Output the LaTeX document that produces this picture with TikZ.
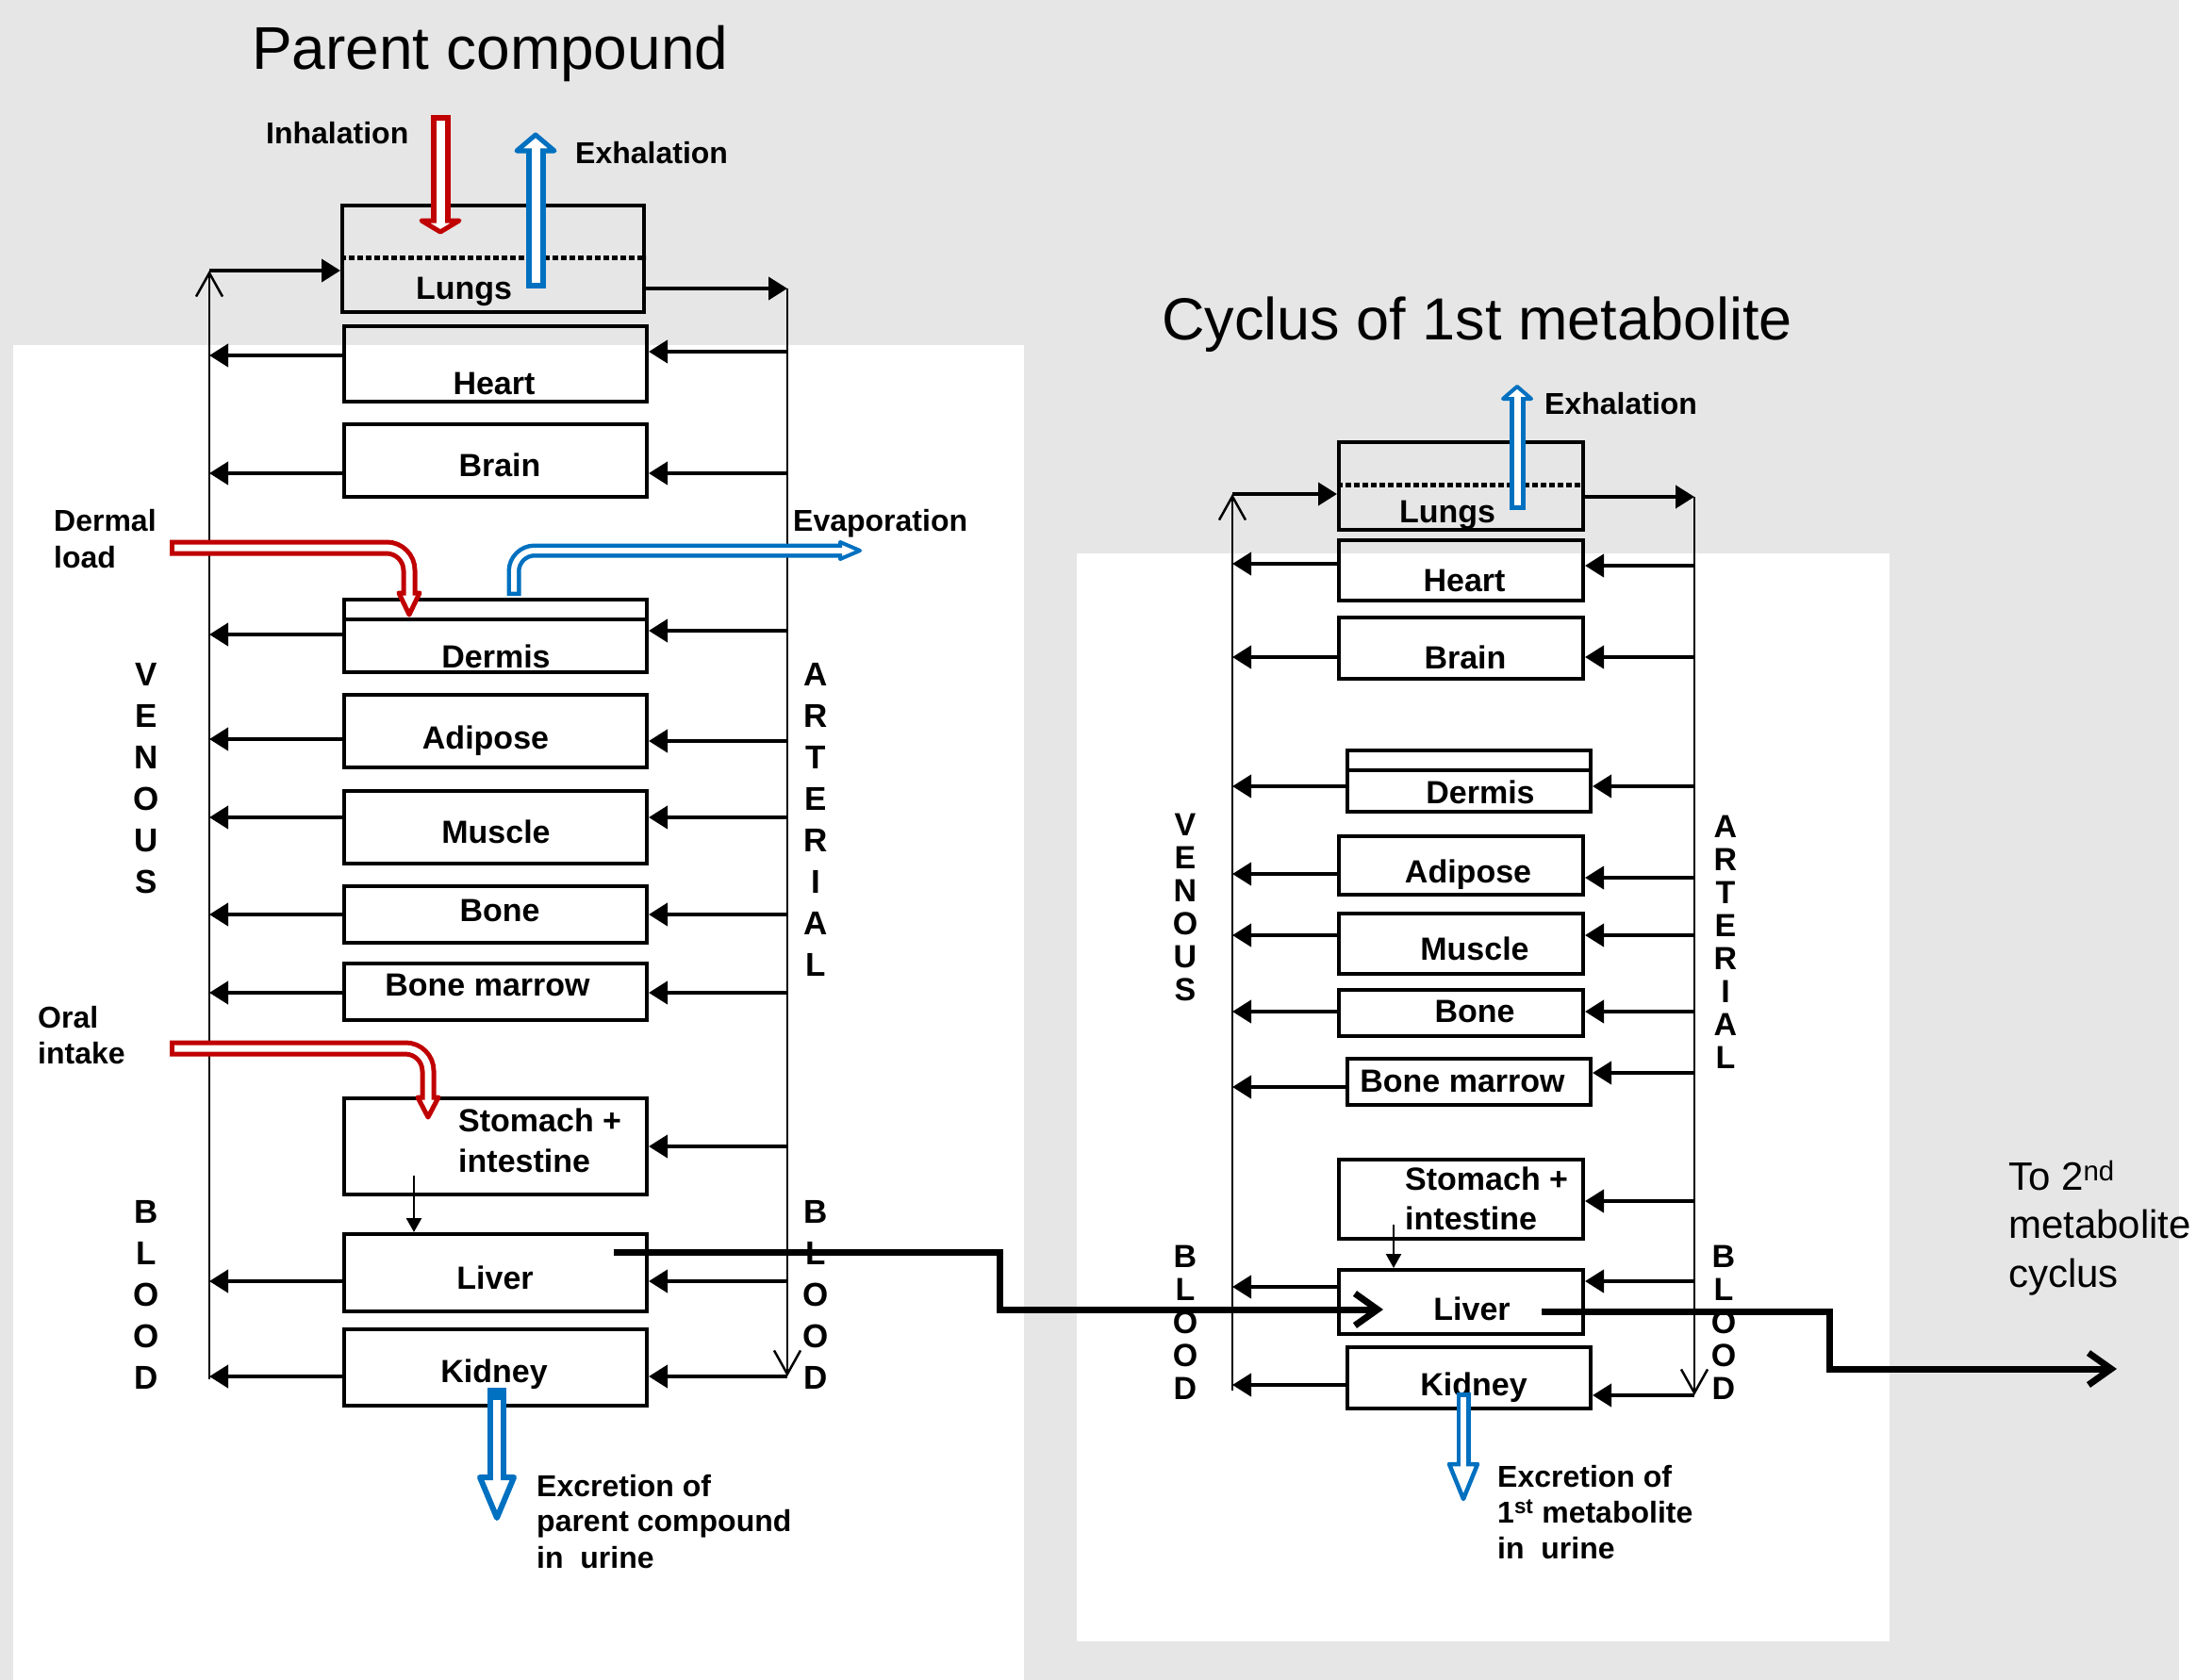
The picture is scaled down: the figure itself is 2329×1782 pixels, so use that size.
\documentclass[tikz,border=0pt]{standalone}
\usepackage{fontspec}
\setmainfont{Liberation Sans}
\usetikzlibrary{arrows.meta}
\definecolor{bggray}{HTML}{E6E6E6}
\definecolor{inred}{HTML}{C00000}
\definecolor{outblue}{HTML}{0070C0}
\begin{document}
\begin{tikzpicture}[x=1pt,y=-1pt,
  organ/.style={draw, line width=4pt, inner sep=0pt},
  lab/.style={font=\fontsize{34}{40}\selectfont\bfseries, inner sep=0pt, anchor=base},
  tlab/.style={font=\fontsize{32}{38}\selectfont\bfseries, inner sep=0pt, anchor=base west},
  vlet/.style={font=\fontsize{35}{44}\selectfont\bfseries, align=center, inner sep=0pt},
  vletr/.style={font=\fontsize{34}{35}\selectfont\bfseries, align=center, inner sep=0pt},
  title/.style={font=\fontsize{64}{70}\selectfont, inner sep=0pt, anchor=base west},
  vessel/.style={line width=2.5pt},
  vesselend/.style={line width=2.5pt, -{Straight Barb[length=25pt,width=28pt]}},
  harr/.style={line width=4pt, -{Triangle[length=20pt,width=24pt]}},
  sarr/.style={line width=2.5pt, -{Triangle[length=15pt,width=16pt]}},
  bigline/.style={line width=7pt, -{Straight Barb[length=24pt,width=34pt]}},
  sep/.style={line width=4pt},
  dashsep/.style={line width=5pt, dash pattern=on 6pt off 3pt},
  headr/.style={inred, line width=5pt, fill=white, line join=round},
  headb/.style={outblue, line width=5pt, fill=white, line join=round},
]
\useasboundingbox (0,0) rectangle (2329,1782);
\clip (0,0) rectangle (2329,1782);
% background
\fill[bggray] (0,0) rectangle (2329,1782);
\fill[white] (14,366) rectangle (1086,1782);
\fill[white] (1142,587) rectangle (2004,1741);
\fill[white] (2311,0) rectangle (2329,1782);

% titles
\node[title] (t1) at (267,74) {Parent compound};
\node[title, font=\fontsize{63}{70}\selectfont] (t2) at (1232,360) {Cyclus of 1st metabolite};

% ===== LEFT PANEL =====
\node[organ, minimum width=320pt, minimum height=113pt] (llungs) at (523,274.5) {};
\node[organ, minimum width=321pt, minimum height=80pt] (lheart) at (525.5,386) {};
\node[organ, minimum width=321pt, minimum height=77pt] (lbrain) at (525.5,488.5) {};
\node[organ, minimum width=321pt, minimum height=77pt] (ldermis) at (525.5,674.5) {};
\node[organ, minimum width=321pt, minimum height=77pt] (ladipose) at (525.5,775.5) {};
\node[organ, minimum width=321pt, minimum height=77pt] (lmuscle) at (525.5,877.5) {};
\node[organ, minimum width=321pt, minimum height=60pt] (lbone) at (525.5,970) {};
\node[organ, minimum width=321pt, minimum height=60pt] (lmarrow) at (525.5,1052) {};
\node[organ, minimum width=321pt, minimum height=102pt] (lstomach) at (525.5,1216) {};
\node[organ, minimum width=321pt, minimum height=82pt] (lliver) at (525.5,1350) {};
\node[organ, minimum width=321pt, minimum height=81pt] (lkidney) at (525.5,1450.5) {};

\draw[dashsep] (llungs.west |- 0,273) -- (llungs.east |- 0,273);
\draw[sep] (ldermis.west |- 0,657) -- (ldermis.east |- 0,657);

\node[lab] (lLungs) at (492,317) {Lungs};
\node[lab] (lHeart) at (524,418) {Heart};
\node[lab] (lBrain) at (530,505) {Brain};
\node[lab] (lDermis) at (526,708) {Dermis};
\node[lab] (lAdipose) at (515,794) {Adipose};
\node[lab] (lMuscle) at (526,894) {Muscle};
\node[lab] (lBone) at (530,977) {Bone};
\node[lab] (lMarrow) at (517,1056) {Bone marrow};
\node[lab, anchor=base west] (lSt1) at (486,1200) {Stomach +};
\node[lab, anchor=base west] (lSt2) at (486,1243) {intestine};
\node[lab] (lLiver) at (525,1367) {Liver};
\node[lab] (lKidney) at (524,1466) {Kidney};

% vessels
\coordinate (lvtop) at (222,287);
\coordinate (lvbot) at (222,1463);
\coordinate (latop) at (835,306);
\coordinate (labot) at (835,1460);
\draw[vesselend] (lvbot) -- (lvtop);
\draw[vesselend] (latop) -- (labot);
\draw[harr] (lvtop) -- (llungs.west |- lvtop);
\draw[harr] (llungs.east |- latop) -- (latop);

% organ -> venous
\foreach \n/\y in {lheart/377, lbrain/502, ldermis/673, ladipose/784, lmuscle/867, lbone/970, lmarrow/1053, lliver/1359, lkidney/1460}
  \draw[harr] (\n.west |- 0,\y) -- (lvtop |- 0,\y);
% arterial -> organ
\foreach \n/\y in {lheart/373, lbrain/502, ldermis/669, ladipose/786, lmuscle/867, lbone/970, lmarrow/1053, lstomach/1216, lliver/1359, lkidney/1460}
  \draw[harr] (latop |- 0,\y) -- (\n.east |- 0,\y);
% stomach -> liver
\draw[sarr] (lstomach.south -| 439,0) ++(0,-22) -- (lliver.north -| 439,0);

% letters
\node[vlet] (lven) at (155,826) {V\\E\\N\\O\\U\\S};
\node[vlet] (lart) at (865,869) {A\\R\\T\\E\\R\\I\\A\\L};
\node[vlet] (lbl1) at (155,1373.5) {B\\L\\O\\O\\D};
\node[vlet] (lbl2) at (865,1373.5) {B\\L\\O\\O\\D};

% side labels
\node[tlab] (inh) at (282,153) {Inhalation};
\node[tlab] (exh1) at (610,173) {Exhalation};
\node[tlab] (derm1) at (57,563) {Dermal};
\node[tlab] (derm2) at (57,602) {load};
\node[tlab] (evap) at (841,563) {Evaporation};
\node[tlab] (oral1) at (40,1090) {Oral};
\node[tlab] (oral2) at (40,1128) {intake};
\node[tlab] (ex1) at (569,1587) {Excretion of};
\node[tlab] (ex2) at (569,1624) {parent compound};
\node[tlab] (ex3) at (569,1663) {in~~urine};

% hollow arrows left
% inhalation
\draw[inred, line width=21pt] (467,122) -- (467,234);
\draw[headr] (447,234) -- (487,234) -- (467,246) -- cycle;
\draw[white, line width=9pt] (467,128) -- (467,237);
% exhalation
\draw[outblue, line width=21pt] (568,306) -- (568,160);
\draw[headb] (548,160) -- (588,160) -- (568,143) -- cycle;
\draw[white, line width=9pt] (568,300) -- (568,157);
% dermal load
\draw[inred, line width=17pt, rounded corners=24pt] (180,581) -- (434,581) -- (434,629);
\draw[headr] (423,629) -- (445,629) -- (434,652) -- cycle;
\draw[white, line width=7pt, rounded corners=24pt] (185,581) -- (434,581) -- (434,632);
% oral intake
\draw[inred, line width=17pt, rounded corners=24pt] (180,1112) -- (454,1112) -- (454,1164);
\draw[headr] (443,1164) -- (465,1164) -- (454,1185) -- cycle;
\draw[white, line width=7pt, rounded corners=24pt] (185,1112) -- (454,1112) -- (454,1167);
% evaporation
\draw[outblue, line width=15pt, rounded corners=22pt] (545,632) -- (545,584) -- (891,584);
\draw[headb, line width=4pt] (891,575) -- (891,593) -- (912,584) -- cycle;
\draw[white, line width=6pt, rounded corners=22pt] (545,627.5) -- (545,584) -- (894,584);
% excretion
\draw[outblue, line width=20pt] (527,1472) -- (527,1567);
\draw[headb, line width=6pt] (509,1567) -- (545,1567) -- (527,1610) -- cycle;
\draw[white, line width=8pt] (527,1485) -- (527,1571);

% ===== RIGHT PANEL =====
\node[organ, minimum width=259pt, minimum height=93pt] (rlungs) at (1549.5,515.5) {};
\node[organ, minimum width=259pt, minimum height=64pt] (rheart) at (1549.5,605) {};
\node[organ, minimum width=259pt, minimum height=65pt] (rbrain) at (1549.5,687.5) {};
\node[organ, minimum width=258pt, minimum height=65pt] (rdermis) at (1558,828.5) {};
\node[organ, minimum width=259pt, minimum height=62pt] (radipose) at (1549.5,918) {};
\node[organ, minimum width=259pt, minimum height=64pt] (rmuscle) at (1549.5,1001) {};
\node[organ, minimum width=259pt, minimum height=49pt] (rbone) at (1549.5,1074.5) {};
\node[organ, minimum width=258pt, minimum height=49pt] (rmarrow) at (1558,1147.5) {};
\node[organ, minimum width=259pt, minimum height=84pt] (rstomach) at (1549.5,1272) {};
\node[organ, minimum width=259pt, minimum height=68pt] (rliver) at (1549.5,1381) {};
\node[organ, minimum width=258pt, minimum height=65pt] (rkidney) at (1558,1461.5) {};

\draw[dashsep] (rlungs.west |- 0,514) -- (rlungs.east |- 0,514);
\draw[sep] (rdermis.west |- 0,817) -- (rdermis.east |- 0,817);

\node[lab] (rLungs) at (1535,554) {Lungs};
\node[lab] (rHeart) at (1553,627) {Heart};
\node[lab] (rBrain) at (1554,709) {Brain};
\node[lab] (rDermis) at (1570,852) {Dermis};
\node[lab] (rAdipose) at (1557,936) {Adipose};
\node[lab] (rMuscle) at (1564,1018) {Muscle};
\node[lab] (rBone) at (1564,1084) {Bone};
\node[lab] (rMarrow) at (1551,1158) {Bone marrow};
\node[lab, anchor=base west] (rSt1) at (1490,1262) {Stomach +};
\node[lab, anchor=base west] (rSt2) at (1490,1304) {intestine};
\node[lab] (rLiver) at (1561,1400) {Liver};
\node[lab] (rKidney) at (1563,1480) {Kidney};

\coordinate (rvtop) at (1307,524);
\coordinate (rvbot) at (1307,1475);
\coordinate (ratop) at (1797,527);
\coordinate (rabot) at (1797,1480);
\draw[vesselend] (rvbot) -- (rvtop);
\draw[vesselend] (ratop) -- (rabot);
\draw[harr] (rvtop) -- (rlungs.west |- rvtop);
\draw[harr] (rlungs.east |- ratop) -- (ratop);

\foreach \n/\y in {rheart/598, rbrain/697, rdermis/834, radipose/927, rmuscle/992, rbone/1073, rmarrow/1153, rliver/1365, rkidney/1469}
  \draw[harr] (\n.west |- 0,\y) -- (rvtop |- 0,\y);
\foreach \n/\y in {rheart/600, rbrain/697, rdermis/834, radipose/931, rmuscle/992, rbone/1073, rmarrow/1138, rstomach/1274, rliver/1359, rkidney/1480}
  \draw[harr] (ratop |- 0,\y) -- (\n.east |- 0,\y);
\draw[sarr] (rstomach.south -| 1478,0) ++(0,-17) -- (rliver.north -| 1478,0);

\node[vletr] (rven) at (1257,962.5) {V\\E\\N\\O\\U\\S};
\node[vletr] (rart) at (1830,999.5) {A\\R\\T\\E\\R\\I\\A\\L};
\node[vletr] (rbl1) at (1257,1403) {B\\L\\O\\O\\D};
\node[vletr] (rbl2) at (1828,1403) {B\\L\\O\\O\\D};

\node[tlab] (exh2) at (1638,439) {Exhalation};
\node[tlab] (rex1) at (1588,1577) {Excretion of};
\node[tlab] (rex2) at (1588,1615) {1\textsuperscript{st} metabolite};
\node[tlab] (rex3) at (1588,1653) {in~~urine};

% right hollow arrows
\draw[outblue, line width=17pt] (1609,541) -- (1609,423);
\draw[headb, line width=4pt] (1594,423) -- (1624,423) -- (1609,410) -- cycle;
\draw[white, line width=7pt] (1609,536) -- (1609,420);
\draw[outblue, line width=15pt] (1552,1477) -- (1552,1553);
\draw[headb, line width=4.5pt] (1537,1553) -- (1567,1553) -- (1552,1590) -- cycle;
\draw[white, line width=6pt] (1552,1482) -- (1552,1557);

% metabolite flow
\coordinate (lliverout) at (651,1328);
\coordinate (rliverin) at (1467,1389);
\coordinate (rliverout) at (1635,1391);
\coordinate (nextcyc) at (2245,1452);
\draw[bigline] (lliverout) -- (1060,1328) -- (1060,1389) -- (rliverin);
\draw[bigline] (rliverout) -- (1940,1391) -- (1940,1452) -- (nextcyc);

\node[font=\fontsize{42}{50}\selectfont, inner sep=0pt, anchor=base west] (to1) at (2130,1262) {To 2\textsuperscript{nd}};
\node[font=\fontsize{42}{50}\selectfont, inner sep=0pt, anchor=base west] (to2) at (2130,1313) {metabolite};
\node[font=\fontsize{42}{50}\selectfont, inner sep=0pt, anchor=base west] (to3) at (2130,1365) {cyclus};
\end{tikzpicture}
\end{document}
